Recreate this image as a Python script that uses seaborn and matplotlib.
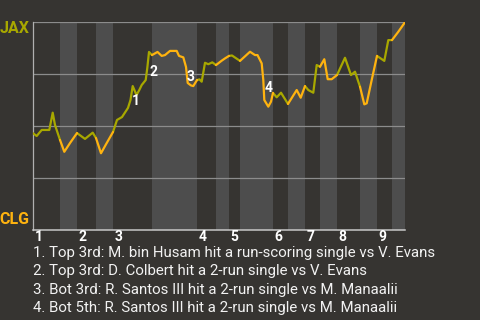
import numpy as np
import pandas as pd
import matplotlib
matplotlib.use("Agg")
import matplotlib.pyplot as plt
import seaborn as sns

sns.set_style("dark")
plt.rcParams['font.family'] = ['Roboto', 'DejaVu Sans']

# ---- data -------------------------------------------------------------
# game progress (arbitrary units) of half-inning boundaries
half_bounds = [0, 27, 44, 63, 80, 119, 164, 183, 196, 207, 240, 255, 272,
               287, 304, 327, 344, 359, 372]
innings = ["1", "2", "3", "4", "5", "6", "7", "8", "9"]

# JAX win probability (%) along the game
progress = [0, 3.7, 8.7, 16.3, 19.7, 22, 27,
            31.3, 37, 44,
            52, 59.7, 63,
            68, 73.7, 80,
            84, 89, 95, 97.5, 99.7, 103.5, 106.3, 108.7, 112.7, 114.3, 116, 119,
            124.5, 128.7, 132, 137, 143.7, 146, 150.3, 153, 154.7, 158, 160.3, 164,
            166.5, 168.7, 172, 175.3, 179.3, 183,
            188.7, 192, 196,
            199, 207,
            217, 222, 224.5, 228.7, 230.3, 231.3, 235.3, 238, 240,
            243.7, 248, 255,
            263.7, 267.7, 272,
            275.3, 280.3, 283.7, 287,
            291.3, 294.7, 298.7, 304,
            312, 318, 322, 327,
            331.3, 333.7, 338.7, 344,
            351.3, 355.3, 359,
            365.3, 372]
jax_wp = [46.5, 45.2, 48.1, 48.1, 56.4, 50.5, 43.3,
          37.6, 41.8, 46.6,
          43.8, 46.8, 44.2,
          36.9, 41.8, 47.1,
          52.9, 54.3, 58.7, 62.5, 69.2, 64.9, 67.3, 69.7, 72.1, 77.9, 85.6, 84.1,
          85.6, 83.7, 84.1, 86.1, 86.1, 83.7, 83.0, 78.4, 70.7, 69.5, 69.2, 72.1,
          72.4, 71.3, 80.4, 79.7, 80.6, 79.3,
          81.4, 82.5, 83.7,
          83.9, 81.3,
          85.7, 84.1, 84.1, 80.1, 72.1, 62.5, 59.3, 61.7, 65.9,
          63.8, 66.0, 60.6,
          67.3, 63.6, 69.2,
          67.3, 66.0, 79.3, 78.5,
          82.1, 72.5, 72.5, 74.5,
          82.8, 74.5, 76.1, 68.9,
          60.4, 60.9, 72.1, 83.7,
          81.3, 91.3, 91.3,
          95.3, 99.9]

# key plays
play_labels = ["1", "2", "3", "4"]
play_x = [103, 120, 158, 236]
play_y = [62.0, 76.0, 73.6, 68.3]
play_texts = [
    "1. Top 3rd: M. bin Husam hit a run-scoring single vs V. Evans",
    "2. Top 3rd: D. Colbert hit a 2-run single vs V. Evans",
    "3. Bot 3rd: R. Santos III hit a 2-run single vs M. Manaalii",
    "4. Bot 5th: R. Santos III hit a 2-run single vs M. Manaalii",
]
teams = ["JAX", "CLG"]

# ---- styling ------------------------------------------------------------
BG = "#363431"
BAND = "#4d4d4d"
OLIVE = "#a8a800"
ORANGE = "#ffb30f"
GRID = "#8c8c8c"

# ---- build segments per half inning ---------------------------------------
x = np.array(progress, dtype=float)
y = np.array(jax_wp, dtype=float)
hidx = np.clip(np.searchsorted(half_bounds, x, side="left") - 1, 0, None)
rows = []
prev = None
for h in range(len(half_bounds) - 1):
    sel = np.where(hidx == h)[0]
    pts = list(sel)
    if prev is not None:
        pts = [prev] + pts
    bat = "JAX" if h % 2 == 0 else "CLG"
    for k, i in enumerate(pts):
        rows.append({"progress": x[i], "wp": y[i], "half": h, "bat": bat, "order": k})
    if len(sel):
        prev = sel[-1]
df = pd.DataFrame(rows)

fig = plt.figure(figsize=(4.8, 3.2), dpi=100, facecolor=BG)
ax = fig.add_axes([33 / 480, 1 - 230 / 320, 372 / 480, 208 / 320])
ax.set_facecolor(BG)

# bottom-half shading
for h in range(1, len(half_bounds) - 1, 2):
    ax.axvspan(half_bounds[h], half_bounds[h + 1], color=BAND, lw=0, zorder=0)

for gy in [25, 50, 75, 100]:
    ax.axhline(gy, color=GRID, lw=0.9, zorder=1)

sns.lineplot(data=df, x="progress", y="wp", hue="bat", units="half",
             estimator=None, sort=False, palette={"JAX": OLIVE, "CLG": ORANGE},
             lw=1.6, legend=False, ax=ax, zorder=3)

ax.set_xlim(half_bounds[0], half_bounds[-1])
ax.set_ylim(0, 100)
ax.set_xticks([])
ax.set_yticks([])
ax.set_xlabel("")
ax.set_ylabel("")
ax.grid(False)
for s in ["top", "right"]:
    ax.spines[s].set_visible(False)
ax.spines["left"].set_color("#b0b0b0")
ax.spines["left"].set_linewidth(0.9)
ax.spines["bottom"].set_color("#c8c8c8")
ax.spines["bottom"].set_linewidth(1.1)

for lab, px, py in zip(play_labels, play_x, play_y):
    ax.text(px, py, lab, color="white", fontsize=10, fontweight="bold",
            ha="center", va="center", zorder=4)

trans = matplotlib.transforms.blended_transform_factory(ax.transData, fig.transFigure)
for i, lab in enumerate(innings):
    ax.text(half_bounds[2 * i] + 1.5, 1 - 237 / 320, lab, color="white",
            fontsize=10, fontweight="bold", ha="left", va="center", transform=trans)

fig.text(29.5 / 480, 1 - 28.5 / 320, teams[0], color=OLIVE, fontsize=11.5,
         fontweight="bold", ha="right", va="center")
fig.text(29.5 / 480, 1 - 219 / 320, teams[1], color=ORANGE, fontsize=11.5,
         fontweight="bold", ha="right", va="center")

for i, t in enumerate(play_texts):
    fig.text(33 / 480, 1 - (253 + 18.3 * i) / 320, t, color="#f2f2f2",
             fontsize=10.8, ha="left", va="center")

fig.savefig("out.png", dpi=100, facecolor=BG)
